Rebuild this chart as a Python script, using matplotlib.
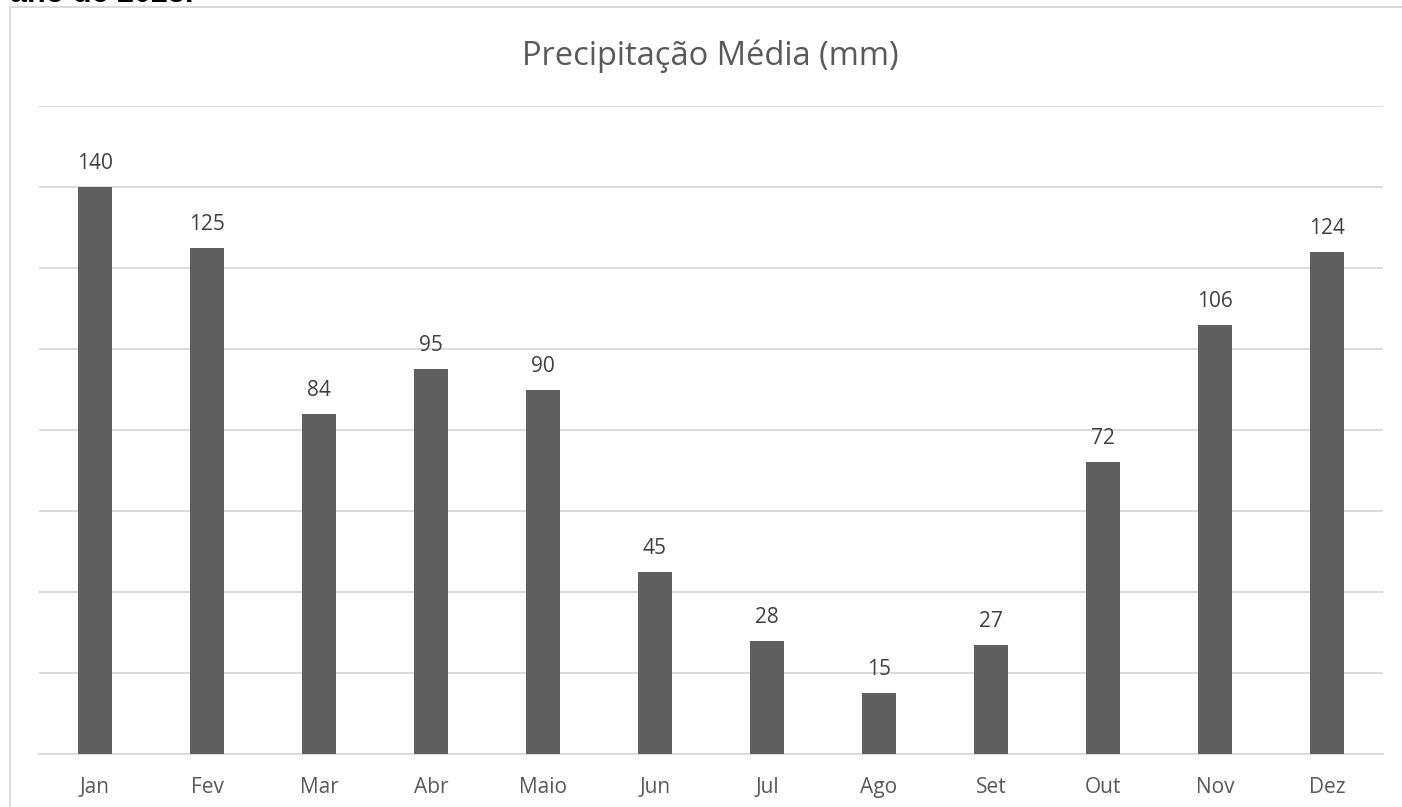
import numpy as np
import matplotlib as mpl
mpl.use('Agg')
import matplotlib.pyplot as plt
from matplotlib.patches import Rectangle

# dados
meses = ['Jan', 'Fev', 'Mar', 'Abr', 'Maio', 'Jun', 'Jul', 'Ago', 'Set', 'Out', 'Nov', 'Dez']
precipitacao = [140, 125, 84, 95, 90, 45, 28, 15, 27, 72, 106, 124]
yticks = [0, 20, 40, 60, 80, 100, 120, 140, 160]

W, H = 1402, 807
plt.rcParams['font.family'] = ['Open Sans', 'DejaVu Sans']
texto = '#595959'

fig = plt.figure(figsize=(W / 100, H / 100), dpi=100)

# moldura do grafico (so o lado esquerdo e o topo ficam visiveis)
fig.patches.append(Rectangle((10 / W, -0.1), 1.2, (H - 7) / H + 0.1, transform=fig.transFigure,
                             fill=False, edgecolor='#d9d9d9', linewidth=1.3))

# texto cortado acima do grafico
fig.text(10 / W, 1 - 2 / H, 'ano de 2023.', fontsize=22, fontweight='bold',
         family=['Liberation Sans', 'DejaVu Sans'], color='black', va='baseline', ha='left')

ax = fig.add_axes([39 / W, (H - 754) / H, (1383 - 39) / W, (754 - 106) / H])
x = np.arange(len(meses))
ax.bar(x, precipitacao, width=0.31, color='#5f5f5f', zorder=3)
ax.set_xlim(-0.5, len(meses) - 0.5)
ax.set_ylim(0, 160)
ax.set_yticks(yticks)
ax.yaxis.grid(True, color='#d9d9d9', linewidth=1.3, zorder=0)
ax.tick_params(axis='y', left=False, labelleft=False)
ax.tick_params(axis='x', bottom=False, labelsize=15, labelcolor=texto, pad=13)
ax.set_xticks(x)
ax.set_xticklabels(meses)
for s in ['top', 'right', 'left']:
    ax.spines[s].set_visible(False)
ax.spines['bottom'].set_color('#d9d9d9')
ax.spines['bottom'].set_linewidth(1.3)

for xi, v in zip(x, precipitacao):
    ax.annotate(str(v), (xi, v), xytext=(0, 18), textcoords='offset pixels',
                ha='center', va='baseline', fontsize=15, color='#404040')

fig.text(710 / W, 1 - 56 / H, 'Precipitação Média (mm)', fontsize=23.5, color=texto,
         ha='center', va='center')

fig.savefig('out.png', dpi=100)
